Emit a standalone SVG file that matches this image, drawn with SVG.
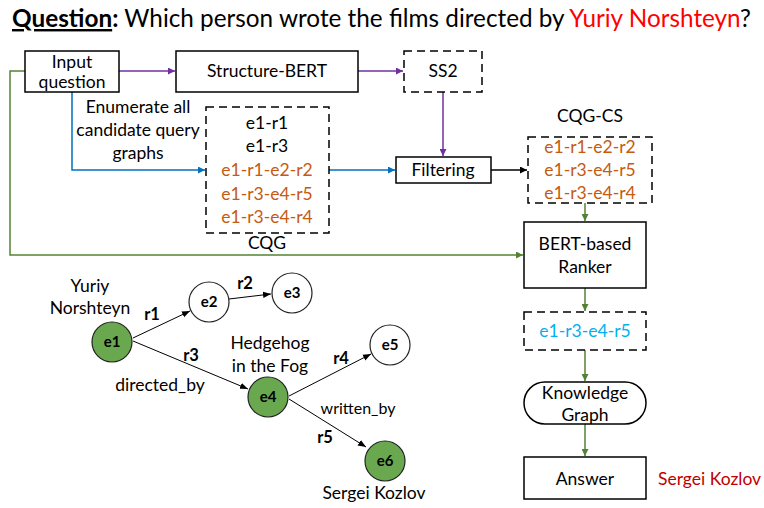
<svg xmlns="http://www.w3.org/2000/svg" width="764" height="508" viewBox="0 0 764 508">
<defs>
<style>
text{font-family:Lato,"Open Sans","Liberation Sans",sans-serif;font-size:17.5px;fill:#000;text-anchor:middle}
.box{fill:#fff;stroke:#000;stroke-width:1.5}
.dash{fill:#fff;stroke:#000;stroke-width:1.5;stroke-dasharray:8 5}
text.or{fill:#c55a11}
text.cy{fill:#00b0f0}
text.dr{fill:#c00000}
tspan.red{fill:#ff0000}
.node{stroke:#222;stroke-width:1.2}
.g{fill:#6aa84f}
.w{fill:#fff}
text.nl{font-weight:bold;font-size:15px}
text.rl{font-weight:bold;font-size:16.5px}
.pu{stroke:#7030a0;stroke-width:1.5;fill:none}
.bl{stroke:#0070c0;stroke-width:1.5;fill:none}
.gr{stroke:#548235;stroke-width:1.5;fill:none}
.bk{stroke:#000;stroke-width:1.5;fill:none}
.ek{stroke:#000;stroke-width:1;fill:none}
</style>
<marker id="ap" viewBox="0 0 10 10" refX="10" refY="5" markerWidth="7" markerHeight="7" orient="auto" markerUnits="userSpaceOnUse"><path d="M0,0L10,5L0,10z" fill="#7030a0"/></marker>
<marker id="ab" viewBox="0 0 10 10" refX="10" refY="5" markerWidth="7" markerHeight="7" orient="auto" markerUnits="userSpaceOnUse"><path d="M0,0L10,5L0,10z" fill="#0070c0"/></marker>
<marker id="ag" viewBox="0 0 10 10" refX="10" refY="5" markerWidth="7" markerHeight="7" orient="auto" markerUnits="userSpaceOnUse"><path d="M0,0L10,5L0,10z" fill="#548235"/></marker>
<marker id="ak" viewBox="0 0 10 10" refX="10" refY="5" markerWidth="7" markerHeight="7" orient="auto" markerUnits="userSpaceOnUse"><path d="M0,0L10,5L0,10z" fill="#000"/></marker>
<marker id="ae" viewBox="0 0 10 10" refX="10" refY="5" markerWidth="8" markerHeight="8" orient="auto" markerUnits="userSpaceOnUse"><path d="M0,1L10,5L0,9z" fill="#000"/></marker>
</defs>
<rect width="764" height="508" fill="#fff"/>
<text x="12" y="27" style="font-size:24.3px;text-anchor:start"><tspan font-weight="bold" text-decoration="underline">Question</tspan><tspan font-weight="bold">:</tspan> Which person wrote the films directed by <tspan class="red">Yuriy Norshteyn</tspan>?</text>

<g id="connectors">
<path class="pu" d="M119,71H175" marker-end="url(#ap)"/>
<path class="pu" d="M358,71H403" marker-end="url(#ap)"/>
<path class="pu" d="M443,92V156" marker-end="url(#ap)"/>
<path class="bl" d="M72,92V170H205" marker-end="url(#ab)"/>
<path class="bl" d="M329,170H395" marker-end="url(#ab)"/>
<path class="bk" d="M491,170H527" marker-end="url(#ak)"/>
<path class="gr" d="M25,71H10V255H523" marker-end="url(#ag)"/>
<path class="gr" d="M585,203V221" marker-end="url(#ag)"/>
<path class="gr" d="M585,288V311" marker-end="url(#ag)"/>
<path class="gr" d="M585,350V381" marker-end="url(#ag)"/>
<path class="gr" d="M585,424V456" marker-end="url(#ag)"/>
<path class="ek" d="M133,338L190,311" marker-end="url(#ae)"/>
<path class="ek" d="M229,299L271,294" marker-end="url(#ae)"/>
<path class="ek" d="M133,341L248,389" marker-end="url(#ae)"/>
<path class="ek" d="M289,396L371,354" marker-end="url(#ae)"/>
<path class="ek" d="M289,399L366,447" marker-end="url(#ae)"/>
</g>

<g id="input-question">
<rect class="box" x="25" y="51" width="94" height="41"/>
<text x="72" y="68">Input</text>
<text x="72" y="88">question</text>
</g>
<text x="138" y="113">Enumerate all</text>
<text x="138" y="136">candidate query</text>
<text x="138" y="159">graphs</text>

<g id="structure-bert">
<rect class="box" x="176" y="51" width="182" height="41"/>
<text x="267" y="77">Structure-BERT</text>
</g>
<g id="ss2">
<rect class="dash" x="404" y="51" width="78" height="41"/>
<text x="443" y="77">SS2</text>
</g>
<g id="cqg">
<rect class="dash" x="206" y="107" width="123" height="126"/>
<text x="267" y="129">e1-r1</text>
<text x="267" y="152">e1-r3</text>
<text x="267" y="176" class="or">e1-r1-e2-r2</text>
<text x="267" y="200" class="or">e1-r3-e4-r5</text>
<text x="267" y="223" class="or">e1-r3-e4-r4</text>
<text x="267" y="249">CQG</text>
</g>
<g id="filtering">
<rect class="box" x="396" y="157" width="95" height="26"/>
<text x="443" y="176">Filtering</text>
</g>
<g id="cqg-cs">
<text x="590" y="122">CQG-CS</text>
<rect class="dash" x="528" y="137" width="124" height="66"/>
<text x="590" y="153" class="or">e1-r1-e2-r2</text>
<text x="590" y="176" class="or">e1-r3-e4-r5</text>
<text x="590" y="199" class="or">e1-r3-e4-r4</text>
</g>
<g id="bert-ranker">
<rect class="box" x="524" y="222" width="122" height="66"/>
<text x="585" y="250">BERT-based</text>
<text x="585" y="273">Ranker</text>
</g>
<g id="result">
<rect class="dash" x="524" y="312" width="122" height="38"/>
<text x="585" y="337" class="cy">e1-r3-e4-r5</text>
</g>
<g id="knowledge-graph">
<rect class="box" x="524" y="382" width="122" height="42" rx="21"/>
<text x="585" y="399">Knowledge</text>
<text x="585" y="421">Graph</text>
</g>
<g id="answer">
<rect class="box" x="524" y="457" width="122" height="42"/>
<text x="585" y="485">Answer</text>
<text x="658" y="485" class="dr" style="text-anchor:start">Sergei Kozlov</text>
</g>

<g id="e1"><circle class="node g" cx="112" cy="342" r="20"/><text class="nl" x="112" y="347">e1</text></g>
<g id="e2"><circle class="node w" cx="209" cy="302" r="20"/><text class="nl" x="209" y="307">e2</text></g>
<g id="e3"><circle class="node w" cx="292" cy="293" r="20"/><text class="nl" x="292" y="298">e3</text></g>
<g id="e4"><circle class="node g" cx="268" cy="397" r="20"/><text class="nl" x="268" y="402">e4</text></g>
<g id="e5"><circle class="node w" cx="390" cy="345" r="20"/><text class="nl" x="390" y="350">e5</text></g>
<g id="e6"><circle class="node g" cx="385" cy="461" r="20"/><text class="nl" x="385" y="466">e6</text></g>

<text x="90" y="292">Yuriy</text>
<text x="90" y="314">Norshteyn</text>
<text class="rl" x="152" y="320">r1</text>
<text class="rl" x="245" y="289">r2</text>
<text class="rl" x="191" y="361">r3</text>
<text x="160" y="391">directed_by</text>
<text x="270" y="349">Hedgehog</text>
<text x="270" y="372">in the Fog</text>
<text class="rl" x="341" y="364">r4</text>
<text x="358" y="414" style="font-size:16px">written_by</text>
<text class="rl" x="325" y="443">r5</text>
<text x="374" y="499">Sergei Kozlov</text>
</svg>
